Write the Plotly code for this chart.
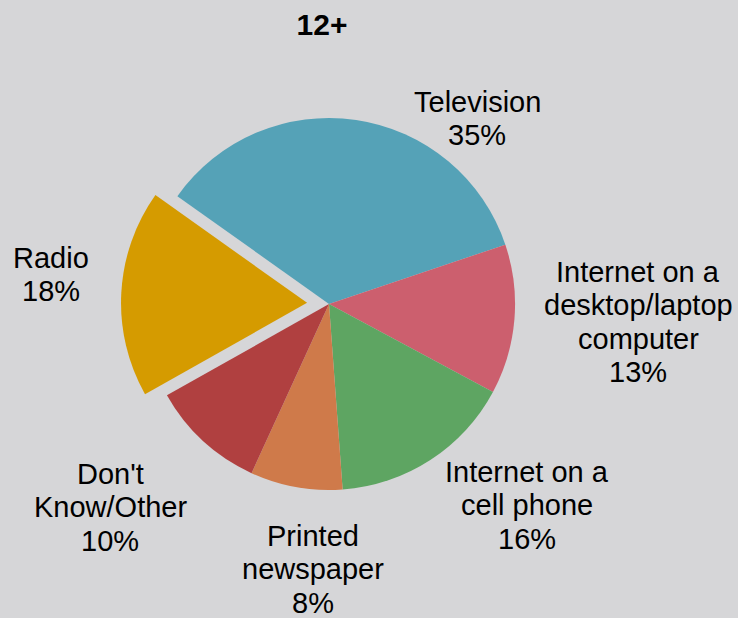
import plotly.graph_objects as go

# Share of respondents by main news source, ages 12+
labels = [
    "Television",
    "Internet on a<br>desktop/laptop<br>computer",
    "Internet on a<br>cell phone",
    "Printed<br>newspaper",
    "Don't<br>Know/Other",
    "Radio",
]
values = [35, 13, 16, 8, 10, 18]
colors = ["#55a2b7", "#cc5f6e", "#5ea562", "#cf7a4a", "#b04040", "#d59b00"]
pulls = [0, 0, 0, 0, 0, 0.118]

W, H = 738, 618
BG = "#d6d6d8"
FONT = "Liberation Sans, Arial, Helvetica, sans-serif"
FS = 29
LINE_H = 33.4

# label block anchors (pixel centre of first text line)
label_pos = [
    (477, 102),
    (638, 272),
    (527, 472),
    (313, 536),
    (110, 474),
    (51, 258),
]

fig = go.Figure(
    go.Pie(
        labels=[l.replace("<br>", " ") for l in labels],
        values=values,
        sort=False,
        direction="clockwise",
        rotation=-54.6,
        pull=pulls,
        marker=dict(colors=colors, line=dict(width=0)),
        textinfo="none",
        hoverinfo="label+percent",
        showlegend=False,
        domain=dict(x=[121 / W, 537 / W], y=[1 - 512 / H, 1 - 96 / H]),
    )
)

annotations = []
total = sum(values)
for lab, val, (px, py) in zip(labels, values, label_pos):
    lines = lab.split("<br>") + [f"{round(100 * val / total)}%"]
    for i, line in enumerate(lines):
        annotations.append(
            dict(
                text=line,
                x=px / W,
                y=1 - (py + i * LINE_H) / H,
                xref="paper",
                yref="paper",
                xanchor="center",
                yanchor="middle",
                showarrow=False,
                font=dict(family=FONT, size=FS, color="#000000"),
            )
        )

fig.update_layout(
    width=W,
    height=H,
    margin=dict(l=0, r=0, t=0, b=0),
    paper_bgcolor=BG,
    plot_bgcolor=BG,
    title=dict(
        text="<b>12+</b>",
        x=322 / W,
        xanchor="center",
        y=1 - 24 / H,
        yanchor="middle",
        font=dict(family=FONT, size=30, color="#000000"),
    ),
    annotations=annotations,
)

fig.write_html("out.html")
